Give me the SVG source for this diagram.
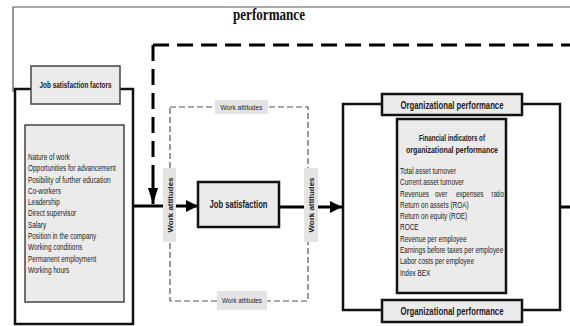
<svg xmlns="http://www.w3.org/2000/svg" width="570" height="326" viewBox="0 0 570 326">
<style>
.frame{fill:none;stroke:#111;stroke-width:2.5}
.box{fill:#ebebeb;stroke:#111;stroke-width:2.5}
.tbox{fill:#ebebeb;stroke:#444;stroke-width:1.5}
.lab{fill:#e4e4e4;stroke:none}
.b{font-family:"Liberation Sans",Arial,sans-serif;font-weight:bold;fill:#1a1a1a;text-anchor:middle}
.n{font-family:"Liberation Sans",Arial,sans-serif;font-size:8.7px;fill:#222}
.wa{font-family:"Liberation Sans",Arial,sans-serif;font-size:8px;fill:#222;text-anchor:middle}
.thick{fill:none;stroke:#000;stroke-width:3}
.dash{fill:none;stroke:#000;stroke-width:3;stroke-dasharray:16 8}
.thin{fill:none;stroke:#555;stroke-width:1.2;stroke-dasharray:6 3}
</style>
<defs>
<marker id="ah" viewBox="0 0 12 12" refX="12" refY="6" markerWidth="12" markerHeight="12" markerUnits="userSpaceOnUse" orient="auto">
<path d="M0,0 L12,6 L0,12 Z" fill="#000"/>
</marker>
<marker id="ahv" viewBox="0 0 16 10" refX="16" refY="5" markerWidth="16" markerHeight="10" markerUnits="userSpaceOnUse" orient="auto">
<path d="M0,0 L16,5 L0,10 Z" fill="#000"/>
</marker>
</defs>
<rect width="570" height="326" fill="#fff"/>
<path d="M13,92 V7 H570" fill="none" stroke="#555" stroke-width="1.2"/>
<text x="269" y="20" font-family="'Liberation Serif','Times New Roman',serif" font-weight="bold" font-size="16" text-anchor="middle" textLength="72" lengthAdjust="spacingAndGlyphs" fill="#111">performance</text>

<g id="connectors">
<path class="dash" d="M153,45 H570"/>
<path class="dash" d="M153,45 V175"/>
<path class="thick" d="M153,175 V204" marker-end="url(#ahv)"/>
<path class="thick" d="M133,206 H198" marker-end="url(#ah)"/>
<path class="thick" d="M279,207 H342" marker-end="url(#ah)"/>
<path class="thick" d="M560,207 H570"/>
</g>

<g id="work-attitudes">
<rect class="thin" x="170" y="107" width="138" height="194"/>
<rect class="lab" x="215" y="100" width="53" height="14"/>
<text class="wa" x="241.5" y="110" textLength="42" lengthAdjust="spacingAndGlyphs">Work attitudes</text>
<rect class="lab" x="217" y="291" width="50" height="19"/>
<text class="wa" x="242" y="303" textLength="40" lengthAdjust="spacingAndGlyphs">Work attitudes</text>
<rect class="lab" x="163" y="168" width="13" height="74"/>
<text class="wa" font-weight="bold" transform="translate(172.5,205) rotate(-90)" textLength="55" lengthAdjust="spacingAndGlyphs">Work attitudes</text>
<rect class="lab" x="304" y="168" width="14" height="74"/>
<text class="wa" font-weight="bold" transform="translate(314,205) rotate(-90)" textLength="55" lengthAdjust="spacingAndGlyphs">Work attitudes</text>
</g>

<g id="job-satisfaction-factors">
<rect class="frame" x="15" y="89" width="118" height="235"/>
<rect class="tbox" x="31" y="66" width="89" height="38"/>
<text class="b" x="75.5" y="88" font-size="8.5" textLength="72" lengthAdjust="spacingAndGlyphs">Job satisfaction factors</text>
<rect class="tbox" x="25" y="125" width="99" height="177"/>
<g transform="translate(28,0) scale(0.74,1)">
<text class="n" x="0" y="160">Nature of work</text>
<text class="n" x="0" y="171.3">Opportunities for advancement</text>
<text class="n" x="0" y="182.6">Posibility of further education</text>
<text class="n" x="0" y="193.9">Co-workers</text>
<text class="n" x="0" y="205.2">Leadership</text>
<text class="n" x="0" y="216.5">Direct supervisor</text>
<text class="n" x="0" y="227.8">Salary</text>
<text class="n" x="0" y="239.1">Position in the company</text>
<text class="n" x="0" y="250.4">Working conditions</text>
<text class="n" x="0" y="261.7">Permanent employment</text>
<text class="n" x="0" y="273">Working hours</text>
</g>
</g>

<g id="job-satisfaction">
<rect class="box" x="198" y="182" width="81" height="45"/>
<text class="b" x="238.5" y="208" font-size="10.5" textLength="58" lengthAdjust="spacingAndGlyphs">Job satisfaction</text>
</g>

<g id="organizational-performance">
<rect class="frame" x="343" y="104" width="217" height="206"/>
<rect class="box" x="382" y="94" width="140" height="21"/>
<text class="b" x="452" y="109" font-size="10.5" textLength="103" lengthAdjust="spacingAndGlyphs">Organizational performance</text>
<rect class="box" x="382" y="300" width="140" height="22"/>
<text class="b" x="452" y="315" font-size="10.5" textLength="103" lengthAdjust="spacingAndGlyphs">Organizational performance</text>
<rect class="box" x="397" y="119" width="109" height="174"/>
<text class="b" x="452" y="141" font-size="8.5" textLength="66" lengthAdjust="spacingAndGlyphs">Financial indicators of</text>
<text class="b" x="452" y="153" font-size="8.5" textLength="92" lengthAdjust="spacingAndGlyphs">organizational performance</text>
<g transform="translate(400,0) scale(0.74,1)">
<text class="n" x="0" y="174">Total asset turnover</text>
<text class="n" x="0" y="185.3">Current asset turnover</text>
<text class="n" x="0" y="196.6">Revenues</text>
<text class="n" x="0" y="207.9">Return on assets (ROA)</text>
<text class="n" x="0" y="219.2">Return on equity (ROE)</text>
<text class="n" x="0" y="230.5">ROCE</text>
<text class="n" x="0" y="241.8">Revenue per employee</text>
<text class="n" x="0" y="253.1">Earnings before taxes per employee</text>
<text class="n" x="0" y="264.4">Labor costs per employee</text>
<text class="n" x="0" y="275.7">Index BEX</text>
</g>
<g transform="translate(435,0) scale(0.74,1)"><text class="n" x="0" y="196.6">over</text></g>
<g transform="translate(456,0) scale(0.74,1)"><text class="n" x="0" y="196.6">expenses</text></g>
<g transform="translate(504,0) scale(0.74,1)"><text class="n" x="0" y="196.6" text-anchor="end">ratio</text></g>
</g>
</svg>
